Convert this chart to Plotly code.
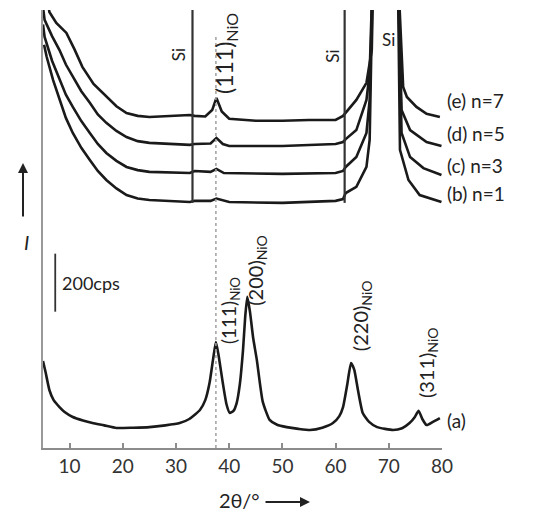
import plotly.graph_objects as go

# ---- XRD patterns: 2theta in degrees, intensity in cps ----
# (a) NiO reference film
tt_a = [5.0, 5.5, 6.2, 7.0, 8.1, 9.0, 10.6, 12.5, 14.3, 16.5, 18.8, 22.0, 25.0, 28.0,
        30.7, 32.5, 34.5, 35.5, 36.3, 37.0, 37.5, 38.0, 38.8, 39.5, 40.1, 40.8, 41.4,
        42.0, 42.6, 43.0, 43.4, 43.9, 44.5, 45.2, 46.3, 47.6, 49.0, 50.8, 53.0, 55.2,
        57.5, 59.5, 60.7, 61.4, 62.2, 62.9, 63.5, 64.2, 65.1, 66.3, 67.8, 70.8, 72.5,
        73.9, 74.9, 75.6, 76.3, 77.1, 78.3, 79.6]
cps_a = [300, 260, 200, 165, 141, 125, 107, 95, 86, 78, 69, 70, 72, 78,
         86, 100, 131, 165, 224, 310, 365, 320, 224, 150, 121, 128, 155,
         220, 338, 450, 521, 470, 380, 303, 160, 97, 80, 72, 66, 62,
         70, 86, 110, 141, 220, 293, 270, 200, 121, 90, 72, 62, 68,
         86, 107, 128, 100, 79, 90, 103]

# (b)-(e) films on Si, n = 1, 3, 5, 7 (stacked)
tt_b = [5.2, 5.7, 6.9, 8.1, 9.3, 10.6, 12.2, 13.8, 15.3, 16.9, 18.8, 20.7, 22.8, 25.0,
        32.6, 33.5, 36.5, 37.6, 40.0, 50.0, 60.0, 61.4, 61.9, 63.9, 65.8, 66.4, 67.0,
        69.3, 71.7, 72.1, 73.7, 75.8, 79.9]
cps_b = [1390, 1348, 1268, 1200, 1138, 1086, 1035, 993, 955, 924, 895, 872, 860, 855,
         848, 852, 852, 860, 848, 845, 852, 858, 879, 900, 969, 1062, 1650,
         1650, 1650, 1028, 924, 872, 848]

tt_c = [5.0, 5.3, 6.7, 8.1, 9.3, 10.6, 12.2, 13.8, 15.3, 16.9, 18.8, 20.7, 22.8, 25.0,
        32.6, 33.5, 36.5, 37.6, 39.0, 50.0, 60.0, 61.4, 61.9, 63.9, 65.8, 66.4, 67.0,
        69.3, 71.7, 72.4, 74.0, 76.5, 79.9]
cps_c = [1460, 1417, 1335, 1269, 1218, 1176, 1127, 1086, 1048, 1017, 990, 969, 958, 952,
         948, 955, 952, 962, 948, 945, 948, 955, 969, 1003, 1086, 1200, 1650,
         1650, 1650, 1086, 1003, 965, 941]

tt_d = [5.0, 5.3, 6.7, 8.1, 9.3, 10.6, 12.2, 13.8, 15.3, 16.9, 18.8, 20.7, 22.8, 25.0,
        32.6, 33.5, 36.5, 37.6, 38.8, 40.0, 50.0, 60.0, 61.4, 61.9, 63.9, 65.8, 66.4,
        67.0, 69.3, 71.7, 72.4, 74.0, 77.1, 79.9]
cps_d = [1520, 1476, 1420, 1372, 1322, 1279, 1230, 1190, 1150, 1121, 1093, 1072, 1058, 1052,
         1045, 1048, 1050, 1069, 1048, 1041, 1041, 1048, 1055, 1065, 1096, 1200, 1293,
         1650, 1650, 1650, 1165, 1096, 1055, 1041]

tt_e = [5.6, 6.2, 7.5, 9.4, 10.9, 12.4, 14.5, 16.9, 18.8, 20.7, 22.8, 25.0, 32.6, 33.5,
        35.5, 36.8, 37.6, 38.6, 40.0, 45.0, 50.0, 55.0, 60.0, 61.4, 63.9, 65.8, 66.8,
        67.1, 69.3, 71.7, 72.7, 73.4, 75.2, 77.1, 79.6]
cps_e = [1580, 1503, 1465, 1431, 1375, 1314, 1255, 1210, 1178, 1155, 1145, 1141, 1148, 1145,
         1143, 1165, 1207, 1160, 1135, 1128, 1128, 1131, 1131, 1145, 1200, 1259, 1372,
         1650, 1650, 1650, 1245, 1210, 1176, 1152, 1141]

series_labels = ["(b) n=1", "(c) n=3", "(d) n=5", "(e) n=7"]

# sharp Si substrate reflections
si_peaks = [33.1, 61.7]
si_base = 845

# NiO reflections
nio_111 = 37.5

# intensity scale bar
scale_x = 7.3
scale_y = [470, 670]

FONT = "Lato, 'Open Sans', sans-serif"
INK = "#1a1a1a"

fig = go.Figure()

fig.add_trace(go.Scatter(x=tt_a, y=cps_a, mode="lines",
                         line=dict(color=INK, width=2.6, shape="spline", smoothing=0.5),
                         showlegend=False, hoverinfo="skip"))

for tt, cps in [(tt_b, cps_b), (tt_c, cps_c), (tt_d, cps_d), (tt_e, cps_e)]:
    fig.add_trace(go.Scatter(x=tt, y=cps, mode="lines",
                             line=dict(color=INK, width=2.6),
                             showlegend=False, hoverinfo="skip"))

for p in si_peaks:
    fig.add_trace(go.Scatter(x=[p, p], y=[si_base, 1650], mode="lines",
                             line=dict(color="#333333", width=2.2),
                             showlegend=False, hoverinfo="skip"))

# NiO (111) position marker
fig.add_trace(go.Scatter(x=[nio_111, nio_111], y=[0, 1420], mode="lines",
                         line=dict(color="#a0a0a0", width=1.5, dash="dot"),
                         showlegend=False, hoverinfo="skip"))

# scale bar
fig.add_trace(go.Scatter(x=[scale_x, scale_x], y=scale_y, mode="lines",
                         line=dict(color="#333333", width=1.8),
                         showlegend=False, hoverinfo="skip"))

ann = []


def txt(x, y, s, size=18, angle=0, xanchor="center", xref="x", yref="y"):
    ann.append(dict(x=x, y=y, xref=xref, yref=yref, text=s, showarrow=False,
                    textangle=angle, xanchor=xanchor, yanchor="middle",
                    font=dict(family=FONT, size=size, color="#222222")))


# peak labels
txt(30.6, 1355, "Si", 17, -90)
txt(59.5, 1352, "Si", 17, -90)
txt(69.85, 1410, "Si", 17, 0)
txt(39.3, 1360, "(111)<sub>NiO</sub>", 23, -90)
txt(40.15, 472, "(111)<sub>NiO</sub>", 19, -90)
txt(45.2, 614, "(200)<sub>NiO</sub>", 20, -90)
txt(64.8, 455, "(220)<sub>NiO</sub>", 20, -90)
txt(77.2, 293, "(311)<sub>NiO</sub>", 20, -90)

# series labels at the right end
for lab, py in zip(series_labels, [193, 165, 133, 100]):
    txt((445 - 43) / 399, (448 - py) / 438, lab, 19, 0, "left", "paper", "paper")
txt((445 - 43) / 399, (448 - 420) / 438, "(a)", 19, 0, "left", "paper", "paper")

# scale bar label
txt(8.2, 570, "200cps", 18, 0, "left")

# axis titles with arrows
txt((239 - 43) / 399, (448 - 500) / 438, "2θ/°", 20, 0, "center", "paper", "paper")
ann.append(dict(x=(310 - 43) / 399, y=(448 - 502) / 438, xref="paper", yref="paper",
                ax=-46, ay=0, text="", showarrow=True, arrowhead=2, arrowsize=1,
                arrowwidth=2, arrowcolor="#222222"))
ann.append(dict(x=(23 - 43) / 399, y=(448 - 163) / 438, xref="paper", yref="paper",
                ax=0, ay=55, text="", showarrow=True, arrowhead=2, arrowsize=1,
                arrowwidth=2, arrowcolor="#222222"))
ann.append(dict(x=(22 - 43) / 399, y=(448 - 242) / 438, xref="paper", yref="paper",
                text="<i>I</i>", showarrow=False,
                font=dict(family=FONT, size=20, color="#222222")))

fig.update_layout(
    width=534, height=518,
    margin=dict(l=43, r=92, t=10, b=70),
    paper_bgcolor="white", plot_bgcolor="white",
    annotations=ann,
    xaxis=dict(range=[5, 80], tickvals=[10, 20, 30, 40, 50, 60, 70, 80],
               ticks="inside", ticklen=5, tickwidth=1.5, tickcolor="#8c8c8c",
               showline=True, linecolor="#8c8c8c", linewidth=2,
               showgrid=False, zeroline=False,
               tickfont=dict(family=FONT, size=19, color="#333333")),
    yaxis=dict(range=[0, 1510], showticklabels=False, ticks="",
               showline=True, linecolor="#9a9a9a", linewidth=2,
               showgrid=False, zeroline=False),
)

fig.write_html("out.html")
